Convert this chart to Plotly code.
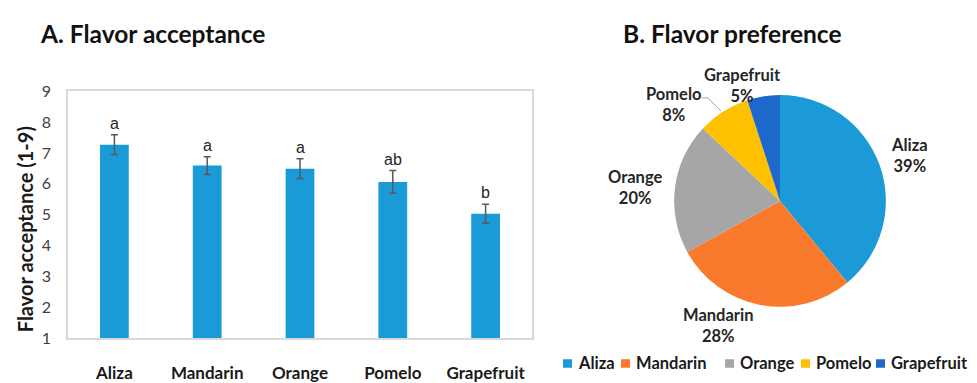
import plotly.graph_objects as go

# Panel A: mean flavor acceptance scores with error bars and significance letters
flavors = ["Aliza", "Mandarin", "Orange", "Pomelo", "Grapefruit"]
acceptance = [7.27, 6.59, 6.49, 6.06, 5.03]
acceptance_err = [0.32, 0.29, 0.32, 0.37, 0.31]
sig_letters = ["a", "a", "a", "ab", "b"]
y_ticks = [1, 2, 3, 4, 5, 6, 7, 8, 9]

# Panel B: share of respondents preferring each flavor (%)
preference = [39, 28, 20, 8, 5]
pie_colors = ["#1C9AD8", "#F97A2C", "#A6A6A6", "#FFC000", "#1F68CB"]

W, H = 977, 383
FONT = "Lato"
BAR_COLOR = "#1A9AD6"

# pixel positions of the outside pie labels (centre of each two-line label)
pie_label_pos = {
    "Aliza": (909, 154),
    "Mandarin": (718, 334),
    "Orange": (635, 188),
    "Pomelo": (674, 100),
    "Grapefruit": (742, 80),
}
# left pixel edge of each legend swatch in the row under the pie
legend_swatch_x = [563, 621, 725, 801, 876]
LEGEND_Y = 374
SWATCH = 9


def px_x(x):
    return x / W


def px_y(y):
    return 1 - y / H


fig = go.Figure()

fig.add_trace(go.Bar(
    x=flavors,
    y=acceptance,
    marker=dict(color=BAR_COLOR, line=dict(width=0)),
    error_y=dict(type="data", array=acceptance_err, visible=True,
                 color="#595959", thickness=1.5, width=3.5),
    width=0.31,
    base=0,
    showlegend=False,
    hoverinfo="x+y",
))

# significance letters above the error bars
for name, val, err, letter in zip(flavors, acceptance, acceptance_err, sig_letters):
    fig.add_annotation(
        x=name, y=val + err, xref="x", yref="y",
        text=letter, showarrow=False, yanchor="bottom", yshift=1,
        font=dict(family="Liberation Sans", size=16, color="#262626"),
    )

fig.add_trace(go.Pie(
    labels=flavors,
    values=preference,
    sort=False,
    direction="clockwise",
    rotation=0,
    marker=dict(colors=pie_colors, line=dict(width=0)),
    textinfo="none",
    domain=dict(x=[px_x(669), px_x(891)], y=[px_y(314), px_y(90)]),
    showlegend=False,
    automargin=False,
))

# outside labels of the pie
for name, val in zip(flavors, preference):
    lx, ly = pie_label_pos[name]
    fig.add_annotation(
        x=px_x(lx), y=px_y(ly), xref="paper", yref="paper",
        text=f"<b>{name}</b><br><b>{val}%</b>", showarrow=False,
        xanchor="center", yanchor="middle", align="center",
        font=dict(family=FONT, size=16.5, color="#262626"),
    )

# leader line from the Pomelo label to its slice
fig.add_shape(type="path", xref="paper", yref="paper",
              path=f"M {px_x(702)} {px_y(93)} L {px_x(708)} {px_y(93)} "
                   f"L {px_x(721)} {px_y(107)}",
              line=dict(color="#A6A6A6", width=1))

# legend row under the pie: colour swatch followed by the flavor name
for name, c, sx in zip(flavors, pie_colors, legend_swatch_x):
    fig.add_shape(type="rect", xref="paper", yref="paper",
                  x0=px_x(sx), x1=px_x(sx + SWATCH),
                  y0=px_y(LEGEND_Y + SWATCH / 2), y1=px_y(LEGEND_Y - SWATCH / 2),
                  fillcolor=c, line=dict(width=0))
    fig.add_annotation(x=px_x(sx + SWATCH + 4), y=px_y(LEGEND_Y), xref="paper", yref="paper",
                       text=f"<b>{name}</b>", showarrow=False,
                       xanchor="left", yanchor="middle",
                       font=dict(family=FONT, size=16.5, color="#1A1A1A"))

fig.update_layout(
    width=W, height=H,
    margin=dict(l=0, r=0, t=0, b=0),
    paper_bgcolor="white",
    plot_bgcolor="white",
    showlegend=False,
    xaxis=dict(
        domain=[px_x(68), px_x(532)],
        showgrid=False, zeroline=False,
        showline=True, linecolor="#D9D9D9", linewidth=1.5, mirror=True,
        ticks="", ticklabelstandoff=19,
        tickfont=dict(family=FONT, size=17, color="#1A1A1A", weight="bold"),
    ),
    yaxis=dict(
        domain=[px_y(347), px_y(86)],
        range=[1, 9],
        tickvals=y_ticks,
        showgrid=False, zeroline=False,
        showline=True, linecolor="#D9D9D9", linewidth=1.5, mirror=True,
        ticks="", ticklabelstandoff=12,
        tickfont=dict(family=FONT, size=16, color="#404040"),
    ),
    bargap=0.69,
)

# panel titles
fig.add_annotation(x=px_x(38), y=px_y(25), xref="paper", yref="paper",
                   text="<b>A. Flavor acceptance</b>", showarrow=False,
                   xanchor="left", yanchor="middle",
                   font=dict(family=FONT, size=24.5, color="#111111"))
fig.add_annotation(x=px_x(621), y=px_y(25), xref="paper", yref="paper",
                   text="<b>B. Flavor preference</b>", showarrow=False,
                   xanchor="left", yanchor="middle",
                   font=dict(family=FONT, size=24.5, color="#111111"))

# y-axis title
fig.add_annotation(x=px_x(25), y=px_y(232), xref="paper", yref="paper",
                   text="<b>Flavor acceptance (1-9)</b>", showarrow=False,
                   textangle=-90, xanchor="center", yanchor="middle",
                   font=dict(family=FONT, size=20, color="#1A1A1A"))

fig.write_html("out.html")
